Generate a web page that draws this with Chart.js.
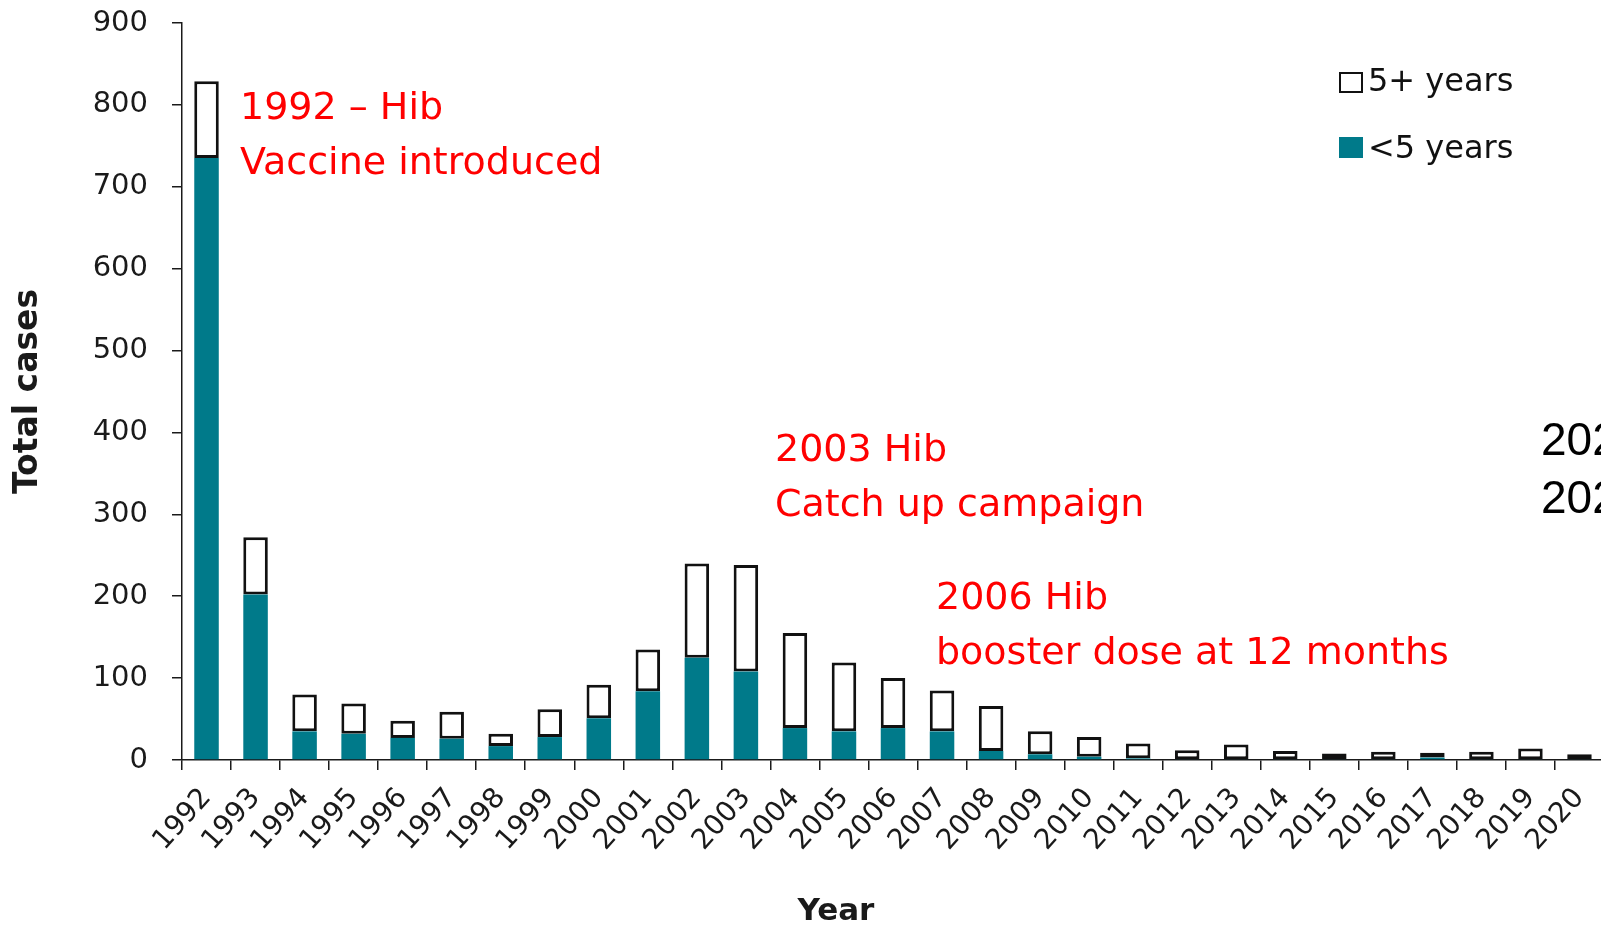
<!DOCTYPE html>
<html>
<head>
    <title>Hib cases by year</title>
    <script src="https://cdn.jsdelivr.net/npm/chart.js"></script>
    <style>
        body {
            margin: 0;
            padding: 0;
            overflow: hidden;
            background-color: #fff;
        }
        #chart-box {
            position: absolute;
            left: 0;
            top: 0;
            width: 1604px;
            height: 930px;
        }
        .note {
            position: absolute;
            color: #ff0000;
            font-family: 'DejaVu Sans', sans-serif;
            font-size: 38px;
            line-height: 55px;
            white-space: nowrap;
        }
        .side {
            position: absolute;
            left: 1541px;
            top: 410px;
            color: #000;
            font-family: 'Liberation Sans', Arial, sans-serif;
            font-size: 46px;
            line-height: 58px;
            white-space: nowrap;
        }
        .legend-row {
            position: absolute;
            left: 1339px;
            font-family: 'DejaVu Sans', sans-serif;
            font-size: 32px;
            line-height: 31px;
            color: #111;
            white-space: nowrap;
        }
        .swatch {
            position: absolute;
            width: 24px;
            height: 21px;
            box-sizing: border-box;
        }
        .legend-row span.lbl {
            position: absolute;
            left: 29px;
        }
        #x-title {
            position: absolute;
            left: 736px;
            top: 894px;
            width: 200px;
            text-align: center;
            font-family: 'DejaVu Sans', sans-serif;
            font-weight: bold;
            font-size: 31px;
            line-height: 30px;
            color: #1a1a1a;
        }
    </style>
</head>
<body>
    <div id="chart-box">
        <canvas id="myChart"></canvas>
    </div>

    <div class="note" style="left:240px; top:79px;">1992 – Hib<br>Vaccine introduced</div>
    <div class="note" style="left:775px; top:421px;">2003 Hib<br>Catch up campaign</div>
    <div class="note" style="left:936px; top:569px;">2006 Hib<br>booster dose at 12 months</div>
    <div class="side">202<br>202</div>

    <div class="legend-row" style="top:65px;">
        <div class="swatch" style="top:7px; border:2.5px solid #111; background:#fff;"></div>
        <span class="lbl">5+ years</span>
    </div>
    <div class="legend-row" style="top:132px;">
        <div class="swatch" style="top:5px; background:#007a8a;"></div>
        <span class="lbl">&lt;5 years</span>
    </div>

    <div id="x-title">Year</div>

    <script>
        // data
        const years = ['1992', '1993', '1994', '1995', '1996', '1997', '1998', '1999', '2000', '2001',
                       '2002', '2003', '2004', '2005', '2006', '2007', '2008', '2009', '2010', '2011',
                       '2012', '2013', '2014', '2015', '2016', '2017', '2018', '2019', '2020'];
        const underFive = [735, 202, 35, 32, 27, 26, 17, 28, 51, 84,
                           125, 108, 39, 35, 39, 35, 11, 7, 4, 2,
                           1, 1, 1, 1, 1, 3, 1, 1, 1];
        const fivePlus = [94, 70, 45, 37, 21, 33, 15, 34, 41, 51,
                          115, 130, 116, 84, 61, 50, 55, 28, 24, 18,
                          11, 18, 10, 7, 9, 6, 9, 13, 6];
        const yTicks = [0, 100, 200, 300, 400, 500, 600, 700, 800, 900];

        const TEAL = '#007a8a';
        const INK = '#1a1a1a';

        const ctx = document.getElementById('myChart');

        new Chart(ctx, {
            type: 'bar',
            data: {
                labels: years,
                datasets: [{
                    label: '<5 years',
                    data: underFive,
                    backgroundColor: TEAL,
                    borderWidth: 0,
                    categoryPercentage: 1,
                    barPercentage: 0.5
                }, {
                    label: '5+ years',
                    data: fivePlus,
                    backgroundColor: '#ffffff',
                    borderColor: '#111',
                    borderWidth: 3,
                    borderSkipped: false,
                    categoryPercentage: 1,
                    barPercentage: 0.5
                }]
            },
            options: {
                responsive: true,
                maintainAspectRatio: false,
                animation: false,
                layout: {
                    padding: { top: 23, right: 0, left: 0, bottom: 0 }
                },
                plugins: {
                    legend: { display: false },
                    tooltip: { enabled: false }
                },
                scales: {
                    x: {
                        stacked: true,
                        // fixed axis box so the plot area lines up with the picture
                        afterFit: function(scale) {
                            scale.height = 170;
                            scale.paddingLeft = 0;
                            scale.paddingRight = 0;
                        },
                        grid: {
                            offset: true,
                            drawOnChartArea: false,
                            drawTicks: true,
                            tickLength: 10,
                            color: INK,
                            lineWidth: 1.5
                        },
                        border: { color: INK, width: 1.5 },
                        ticks: {
                            autoSkip: false,
                            minRotation: 48,
                            maxRotation: 48,
                            padding: 12,
                            color: INK,
                            font: { family: "'DejaVu Sans', sans-serif", size: 28 }
                        }
                    },
                    y: {
                        stacked: true,
                        min: 0,
                        max: 900,
                        afterFit: function(scale) {
                            scale.width = 182;
                            scale.paddingTop = 0;
                            scale.paddingBottom = 0;
                        },
                        afterBuildTicks: function(scale) {
                            scale.ticks = yTicks.map(v => ({ value: v }));
                        },
                        grid: {
                            drawOnChartArea: false,
                            drawTicks: true,
                            tickLength: 10,
                            color: INK,
                            lineWidth: 1.5
                        },
                        border: { color: INK, width: 1.5 },
                        ticks: {
                            padding: 24,
                            color: INK,
                            font: { family: "'DejaVu Sans', sans-serif", size: 29 }
                        },
                        title: {
                            display: true,
                            text: 'Total cases',
                            color: INK,
                            padding: { top: 9, bottom: 0 },
                            font: { family: "'DejaVu Sans', sans-serif", size: 33, weight: 'bold' }
                        }
                    }
                }
            }
        });
    </script>
</body>
</html>
